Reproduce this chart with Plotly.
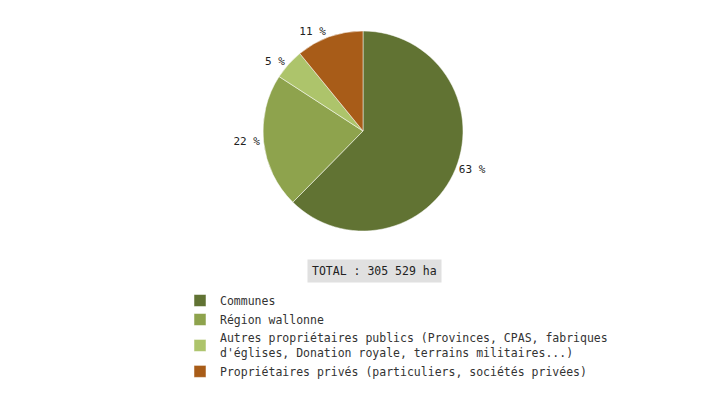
import plotly.graph_objects as go

categories = ["Communes", "Région wallonne",
              "Autres propriétaires publics (Provinces, CPAS, fabriques<br>d'églises, Donation royale, terrains militaires...)",
              "Propriétaires privés (particuliers, sociétés privées)"]
values = [63, 22, 5, 11]
labels_txt = ["63 %", "22 %", "5 %", "11 %"]
colors = ["#617333", "#8ea34d", "#adc46b", "#a85c18"]
total_label = "TOTAL : 305 529 ha"

W, H = 725, 400
fig = go.Figure(go.Pie(
    labels=categories, values=values, text=labels_txt,
    textinfo="text", textposition="outside", sort=False, direction="clockwise",
    rotation=0, marker=dict(colors=colors, line=dict(color="white", width=0.5)),
    textfont=dict(family="DejaVu Sans Mono", size=11, color="#222"),
    domain=dict(x=[255/W, 455/W], y=[1-223/H, 1-23/H]),
    hoverinfo="label+percent",
))
fig.update_layout(
    width=W, height=H, margin=dict(l=0, r=0, t=0, b=0),
    paper_bgcolor="white", font=dict(family="DejaVu Sans Mono", size=11, color="#333"),
    showlegend=True,
    legend=dict(x=172/W, y=1-278/H, xanchor="left", yanchor="top",
                font=dict(family="DejaVu Sans Mono", size=11.5, color="#333"),
                itemwidth=30, tracegroupgap=0),
    annotations=[dict(text=total_label, x=366/W, y=1-263/H, xref="paper", yref="paper",
                      showarrow=False, bgcolor="#e0e0e0", borderpad=4,
                      font=dict(family="DejaVu Sans Mono", size=11.5, color="#222"))],
)
fig.write_html("out.html")
